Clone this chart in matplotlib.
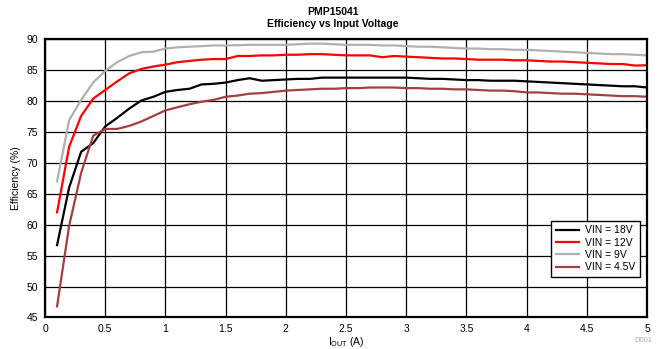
# Efficiency vs output current curves for the PMP15041 reference design

import numpy as np
import matplotlib
matplotlib.use("Agg")
import matplotlib.pyplot as plt

plt.rcParams['font.family'] = ['Liberation Sans', 'DejaVu Sans']

# output current (A), 0.1 A steps
iout = np.round(np.arange(1, 51) * 0.1, 1)

eff_18v = [56.7, 66.0, 71.8, 73.2, 75.9, 77.3, 78.8, 80.1, 80.7, 81.5,
           81.8, 82.0, 82.7, 82.8, 83.0, 83.4, 83.7, 83.3, 83.4, 83.5,
           83.6, 83.6, 83.8, 83.8, 83.8, 83.8, 83.8, 83.8, 83.8, 83.8,
           83.7, 83.6, 83.6, 83.5, 83.4, 83.4, 83.3, 83.3, 83.3, 83.2,
           83.1, 83.0, 82.9, 82.8, 82.7, 82.6, 82.5, 82.4, 82.4, 82.2]
eff_12v = [62.0, 72.6, 77.6, 80.4, 81.8, 83.2, 84.5, 85.2, 85.6, 85.9,
           86.3, 86.5, 86.7, 86.8, 86.8, 87.3, 87.3, 87.4, 87.4, 87.5,
           87.5, 87.6, 87.6, 87.5, 87.4, 87.4, 87.4, 87.1, 87.3, 87.2,
           87.1, 87.0, 86.9, 86.9, 86.8, 86.7, 86.7, 86.7, 86.6, 86.6,
           86.5, 86.4, 86.4, 86.3, 86.2, 86.1, 86.0, 86.0, 85.75, 85.8]
eff_9v = [67.0, 76.9, 80.2, 83.0, 84.9, 86.3, 87.3, 87.9, 88.0, 88.5,
          88.7, 88.8, 88.9, 89.0, 89.0, 89.05, 89.1, 89.1, 89.1, 89.1,
          89.2, 89.3, 89.3, 89.2, 89.1, 89.1, 89.1, 89.0, 89.0, 88.9,
          88.8, 88.8, 88.7, 88.6, 88.5, 88.5, 88.4, 88.4, 88.3, 88.3,
          88.2, 88.1, 88.0, 87.9, 87.8, 87.7, 87.6, 87.6, 87.5, 87.4]
eff_4v5 = [46.8, 59.8, 68.4, 74.4, 75.5, 75.5, 76.0, 76.7, 77.6, 78.5,
           79.0, 79.5, 79.9, 80.2, 80.7, 80.9, 81.2, 81.3, 81.5, 81.7,
           81.8, 81.9, 82.0, 82.0, 82.1, 82.1, 82.2, 82.2, 82.2, 82.1,
           82.1, 82.0, 82.0, 81.9, 81.9, 81.8, 81.7, 81.7, 81.6, 81.4,
           81.4, 81.3, 81.2, 81.2, 81.1, 81.0, 80.9, 80.8, 80.8, 80.7]

series = [("VIN = 18V", eff_18v, "black"),
          ("VIN = 12V", eff_12v, "#ff0000"),
          ("VIN = 9V", eff_9v, "#b0b0b0"),
          ("VIN = 4.5V", eff_4v5, "#a04040")]

fig = plt.figure(figsize=(6.66, 3.49), dpi=100)
ax = fig.add_axes([0.0676, 0.0903, 0.9039, 0.7971])

for label, eff, color in series:
    ax.plot(iout, eff, color=color, lw=1.6, label=label)

ax.set_xlim(0, 5)
ax.set_ylim(45, 90)
ax.set_xticks(np.arange(0, 5.01, 0.5))
ax.set_xticklabels(["0", "0.5", "1", "1.5", "2", "2.5", "3", "3.5", "4", "4.5", "5"])
ax.set_yticks(np.arange(45, 91, 5))
ax.grid(True, color="black", lw=0.9)
ax.tick_params(length=0, labelsize=7.5, pad=5)
for sp in ax.spines.values():
    sp.set_linewidth(1.6)

ax.set_xlabel(r"I$_{\mathregular{OUT}}$ (A)", fontsize=7.5)
ax.xaxis.set_label_coords(0.5, -0.063)
ax.set_ylabel("Efficiency (%)", fontsize=7.5, labelpad=4)

fig.text(0.5, 0.965, "PMP15041", ha="center", va="center",
         fontsize=7.5, fontweight="bold")
fig.text(0.5, 0.93, "Efficiency vs Input Voltage", ha="center", va="center",
         fontsize=7.5, fontweight="bold")
fig.text(0.98, 0.025, "D001", ha="right", va="center", fontsize=5.5, color="#aaaaaa")

leg = ax.legend(loc="lower right", bbox_to_anchor=(0.988, 0.146), fontsize=7.5,
                fancybox=False, framealpha=1, edgecolor="black",
                handlelength=2.2, borderpad=0.45, labelspacing=0.22,
                handletextpad=0.6, borderaxespad=0)
leg.get_frame().set_linewidth(1.0)

fig.savefig("out.png", dpi=100)
